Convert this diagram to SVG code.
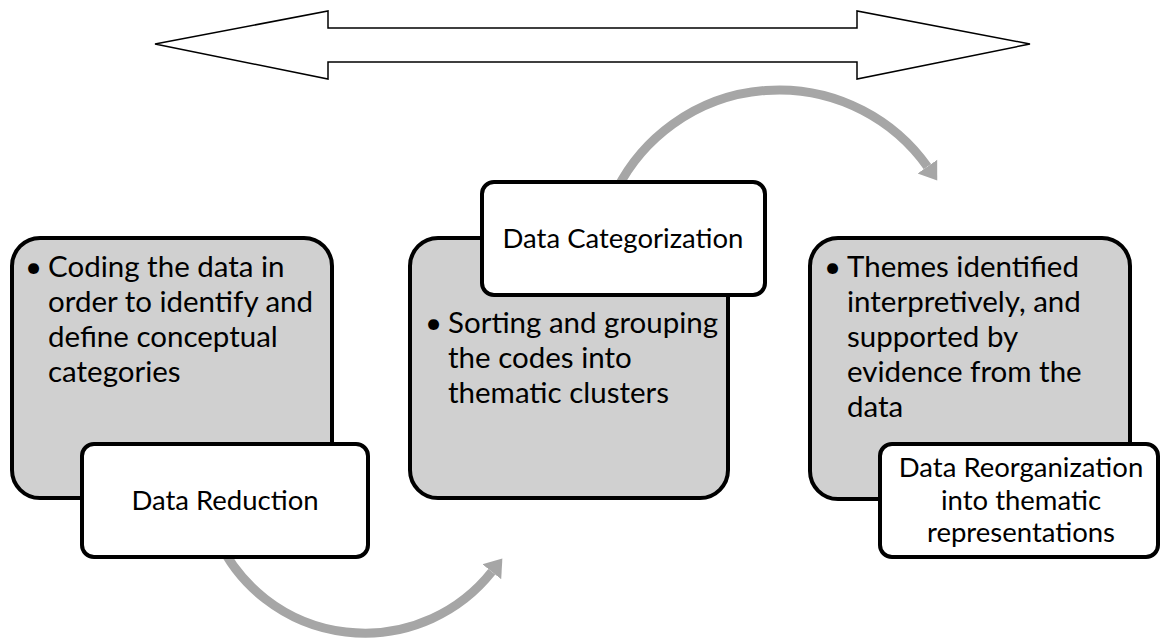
<svg xmlns="http://www.w3.org/2000/svg" width="1161" height="638" viewBox="0 0 1161 638">
<defs>
<style>
.card{fill:#d0d0d0;stroke:#000;stroke-width:4}
.label{fill:#fff;stroke:#000;stroke-width:4}
.bt{font-family:Lato,"Liberation Sans",sans-serif;font-size:29.5px;fill:#000}
.lt{font-family:Lato,"Liberation Sans",sans-serif;font-size:27.5px;fill:#000;text-anchor:middle}
.arc{fill:none;stroke:#a6a6a6;stroke-width:9}
.big{fill:#fff;stroke:#000;stroke-width:1.5;stroke-linejoin:miter}
</style>
<marker id="head" markerUnits="userSpaceOnUse" markerWidth="20" markerHeight="26" refX="0" refY="12" orient="auto" viewBox="0 0 20 24">
<path d="M0,0 L17,12 L0,24 Z" fill="#a6a6a6"/>
</marker>
</defs>
<rect width="1161" height="638" fill="#fff"/>
<g id="double-arrow">
<polygon class="big" points="155,44 328,11 328,28 857,28 857,11 1030,44 857,79 857,62 328,62 328,79"/>
</g>
<g id="connectors">
<path class="arc" d="M218,539.5 A162,162 0 0 0 491.8,571.8" marker-end="url(#head)"/>
<path class="arc" d="M616.8,189.4 A182,182 0 0 1 927.4,166.6" marker-end="url(#head)"/>
</g>
<g id="node-reduction">
<rect class="card" x="12" y="238" width="320" height="260" rx="28"/>
<text class="bt" x="25" y="277">•</text>
<text class="bt"><tspan x="48" y="277">Coding the data in</tspan><tspan x="48" y="312">order to identify and</tspan><tspan x="48" y="347">define conceptual</tspan><tspan x="48" y="382">categories</tspan></text>
<rect class="label" x="82" y="444" width="286" height="113" rx="12"/>
<text class="lt" x="225" y="510">Data Reduction</text>
</g>
<g id="node-categorization">
<rect class="card" x="410" y="238" width="318" height="260" rx="28"/>
<rect class="label" x="482" y="182" width="283" height="113" rx="12"/>
<text class="lt" x="623" y="248">Data Categorization</text>
<text class="bt" x="425" y="333">•</text>
<text class="bt"><tspan x="448" y="333">Sorting and grouping</tspan><tspan x="448" y="368">the codes into</tspan><tspan x="448" y="403">thematic clusters</tspan></text>
</g>
<g id="node-reorganization">
<rect class="card" x="810" y="238" width="320" height="261" rx="28"/>
<text class="bt" x="824" y="277">•</text>
<text class="bt"><tspan x="847" y="277">Themes identified</tspan><tspan x="847" y="312">interpretively, and</tspan><tspan x="847" y="347">supported by</tspan><tspan x="847" y="382">evidence from the</tspan><tspan x="847" y="417">data</tspan></text>
<rect class="label" x="880" y="444" width="278" height="113" rx="12"/>
<text class="lt"><tspan x="1021" y="477">Data Reorganization</tspan><tspan x="1021" y="510">into thematic</tspan><tspan x="1021" y="542">representations</tspan></text>
</g>
</svg>
